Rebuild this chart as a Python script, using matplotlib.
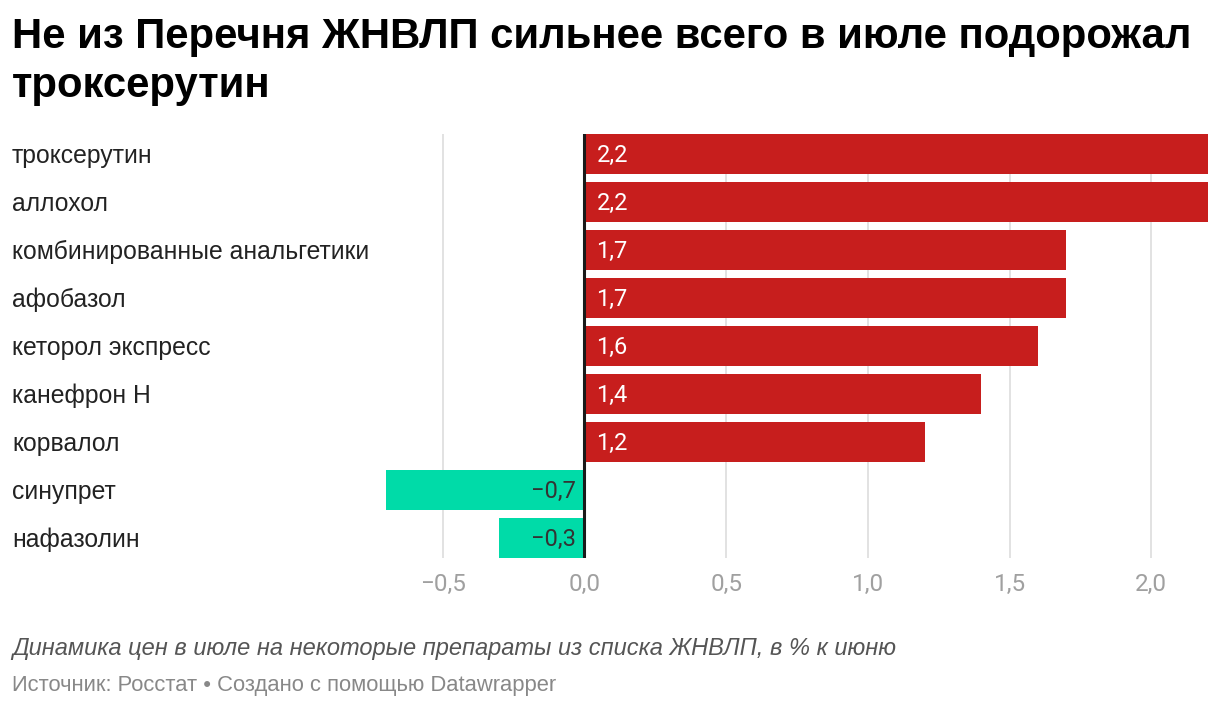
import matplotlib
matplotlib.use("Agg")
import matplotlib.pyplot as plt
from matplotlib.transforms import blended_transform_factory, offset_copy

drugs = ['троксерутин', 'аллохол', 'комбинированные анальгетики', 'афобазол',
         'кеторол экспресс', 'канефрон Н', 'корвалол', 'синупрет', 'нафазолин']
changes = [2.2, 2.2, 1.7, 1.7, 1.6, 1.4, 1.2, -0.7, -0.3]
ticks = [-0.5, 0.0, 0.5, 1.0, 1.5, 2.0]
tick_labels = ['−0,5', '0,0', '0,5', '1,0', '1,5', '2,0']

title_1 = 'Не из Перечня ЖНВЛП сильнее всего в июле подорожал'
title_2 = 'троксерутин'
note = 'Динамика цен в июле на некоторые препараты из списка ЖНВЛП, в % к июню'
source = 'Источник: Росстат • Создано с помощью Datawrapper'

RED = '#c71e1d'
GREEN = '#00dba8'

W, H = 1220, 708
fig = plt.figure(figsize=(W / 100, H / 100), dpi=100)
fig.patch.set_facecolor('white')

# axes box in pixels: x 386..1208, y 134..558
ax = fig.add_axes([386 / W, 1 - 558 / H, (1208 - 386) / W, (558 - 134) / H])

bar_h = 40 / 48
ypos = list(range(len(drugs)))
colors = [RED if v >= 0 else GREEN for v in changes]
ax.barh(ypos, changes, height=bar_h, color=colors, zorder=2)

ax.set_xlim(-0.7, 2.2)
ax.set_ylim(len(drugs) - 1 + bar_h / 2, -bar_h / 2)

for t in ticks:
    if t != 0:
        ax.axvline(t, color='#e2e2e2', lw=1.4, zorder=1)
ax.axvline(0, color='#1a1a1a', lw=2.2, zorder=3)

ax.set_xticks(ticks)
ax.set_xticklabels(tick_labels, family='Roboto', fontsize=17.5, color='#a0a0a0')
ax.tick_params(axis='x', length=0, pad=11)
ax.set_yticks([])
for s in ax.spines.values():
    s.set_visible(False)

to_pt = 72 / 100
for y, v in zip(ypos, changes):
    lab = f'{v:.1f}'.replace('.', ',').replace('-', '−')
    if v >= 0:
        ax.annotate(lab, (0, y), xytext=(12 * to_pt, -1 * to_pt), textcoords='offset points',
                    ha='left', va='center', color='white', family='Roboto', fontsize=17, zorder=4)
    else:
        ax.annotate(lab, (0, y), xytext=(-9 * to_pt, -1 * to_pt), textcoords='offset points',
                    ha='right', va='center', color='#333333', family='Roboto', fontsize=17, zorder=4)

# category labels at the left of the figure
trans = offset_copy(blended_transform_factory(fig.transFigure, ax.transData),
                    fig=fig, x=0, y=-2, units='dots')
for y, name in zip(ypos, drugs):
    ax.text(12 / W, y, name, transform=trans, ha='left', va='center',
            family='Liberation Sans', fontsize=17.8, color='#222222')

fig.text(12 / W, 1 - 48 / H, title_1, ha='left', va='baseline', family='Liberation Sans',
         fontweight='bold', fontsize=30.2, color='black')
fig.text(12 / W, 1 - 97 / H, title_2, ha='left', va='baseline', family='Liberation Sans',
         fontweight='bold', fontsize=30.2, color='black')

fig.text(12 / W, 1 - 655 / H, note, ha='left', va='baseline', family='Liberation Sans',
         style='italic', fontsize=17, color='#555555')
fig.text(12 / W, 1 - 691 / H, source, ha='left', va='baseline', family='Liberation Sans',
         fontsize=15.8, color='#888888')

fig.savefig('out.png', dpi=100, facecolor='white')
